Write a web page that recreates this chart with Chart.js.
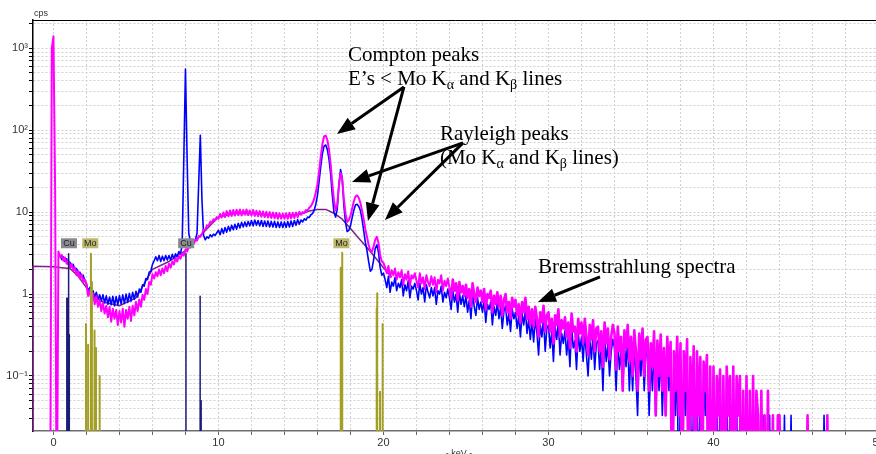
<!DOCTYPE html>
<html>
<head>
<meta charset="utf-8">
<script src="https://cdn.jsdelivr.net/npm/chart.js@4.4.1/dist/chart.umd.min.js"></script>
<style>
  html, body { margin: 0; padding: 0; background: #fff; overflow: hidden; }
</style>
</head>
<body>
<canvas id="spectrum_chart" width="900" height="454"></canvas>
<script>
// channel energies in keV, 0.1 keV apart from -0.2 to 48.0
const energies = [];
for (let i = -2; i <= 480; i++) energies.push(i / 10);

// counts per second, magenta spectrum (one row = 1 keV)
const magenta_cps = [
  0, 1000,                                                        // -0.2
  1400, 20, 0, 3.3, 2.85, 3.0, 2.55, 2.8, 2.35, 2.6,              // 0
  2.1, 2.35, 1.95, 2.1, 1.7, 1.9, 1.55, 1.75, 1.4, 1.5,           // 1
  1.3, 0.95, 1.12, 0.85, 1.02, 0.75, 0.94, 0.7, 0.85, 0.62,       // 2
  0.78, 0.58, 0.72, 0.52, 0.7, 0.46, 0.66, 0.5, 0.64, 0.42,       // 3
  0.62, 0.45, 0.66, 0.4, 0.64, 0.5, 0.7, 0.47, 0.72, 0.55,        // 4
  0.8, 0.62, 0.86, 0.7, 0.98, 0.85, 1.15, 1.0, 1.4, 1.3,          // 5
  1.75, 1.55, 1.85, 1.65, 2.0, 1.7, 2.05, 1.8, 2.2, 1.9,          // 6
  2.35, 2.1, 2.5, 2.3, 2.75, 2.5, 2.9, 2.7, 3.15, 2.95,           // 7
  3.5, 3.3, 3.8, 3.7, 4.2, 4.1, 4.6, 4.5, 5.1, 5.0,               // 8
  5.4, 6.1, 6.1, 6.9, 6.8, 7.6, 7.4, 8.2, 8.0, 8.7,               // 9
  8.3, 9.5, 8.6, 9.9, 8.7, 10.3, 8.9, 10.5, 9.0, 10.6,            // 10
  9.1, 10.7, 9.2, 10.8, 9.1, 10.6, 9.3, 10.8, 9.2, 10.5,          // 11
  9.1, 10.6, 9.0, 10.4, 8.9, 10.3, 8.8, 10.2, 8.7, 10.1,          // 12
  8.6, 10.0, 8.5, 9.9, 8.4, 9.8, 8.3, 9.7, 8.3, 9.6,              // 13
  8.3, 9.7, 8.3, 9.8, 8.4, 9.8, 8.5, 9.9, 8.7, 10.1,              // 14
  9.3, 10.0, 9.8, 10.6, 10.5, 11.3, 11.8, 12.8, 14.5, 17.5,       // 15
  22, 32, 48, 68, 84, 86, 76, 58, 38, 22,                         // 16
  14, 10.5, 12.5, 21, 30, 25, 14.5, 9.5, 7.6, 8.0,                // 17
  9.0, 11, 13.5, 15.5, 16, 15, 13, 10.5, 8.2, 6.2,                // 18
  5.0, 4.0, 3.4, 3.3, 3.8, 4.6, 5.0, 4.2, 3.0, 2.5,               // 19
  2.4, 2.1, 1.8, 2.2, 1.6, 1.95, 1.7, 2.05, 1.5, 1.85,            // 20
  1.6, 1.95, 1.3, 1.75, 1.5, 1.9, 1.25, 1.7, 1.55, 1.8,           // 21
  1.45, 1.2, 1.8, 1.35, 1.6, 1.15, 1.7, 1.4, 1.25, 1.65,          // 22
  1.3, 1.6, 1.05, 1.5, 1.35, 1.7, 1.1, 1.45, 1.25, 1.55,          // 23
  1.2, 0.9, 1.5, 1.1, 1.35, 0.85, 1.4, 1.05, 1.25, 0.95,          // 24
  1.3, 0.9, 1.15, 0.7, 1.35, 1.0, 0.8, 1.2, 0.95, 1.1,            // 25
  0.8, 1.15, 0.65, 1.0, 0.9, 1.1, 0.6, 0.95, 0.75, 1.05,          // 26
  0.7, 0.95, 0.55, 0.85, 1.0, 0.6, 0.8, 0.5, 0.9, 0.7,            // 27
  0.85, 0.55, 0.75, 0.45, 0.8, 0.6, 0.9, 0.5, 0.7, 0.42,          // 28
  0.65, 0.4, 0.7, 0.5, 0.3, 0.6, 0.45, 0.72, 0.35, 0.55,          // 29
  0.6, 0.35, 0.5, 0.25, 0.55, 0.42, 0.65, 0.3, 0.48, 0.38,        // 30
  0.52, 0.3, 0.45, 0.22, 0.58, 0.35, 0.4, 0.2, 0.5, 0.33,         // 31
  0.45, 0.25, 0.5, 0.3, 0.18, 0.42, 0.28, 0.48, 0.2, 0.38,        // 32
  0.4, 0.2, 0.35, 0.13, 0.45, 0.25, 0.38, 0.16, 0.3, 0.42,        // 33
  0.33, 0.12, 0.4, 0.2, 0.3, 0.066, 0.36, 0.22, 0.42, 0.15,       // 34
  0.3, 0.1, 0.36, 0.2, 0.066, 0.33, 0.16, 0.38, 0.1, 0.28,        // 35
  0.3, 0.066, 0.25, 0.13, 0.35, 0.033, 0.27, 0.1, 0.32, 0.066,    // 36
  0.22, 0.033, 0.3, 0.1, 0.26, 0, 0.2, 0.066, 0.3, 0.033,         // 37
  0.25, 0, 0.2, 0.066, 0.28, 0, 0.17, 0.033, 0.23, 0,             // 38
  0.2, 0.033, 0.17, 0, 0.15, 0.066, 0.18, 0, 0.13, 0,             // 39
  0.13, 0, 0.1, 0.033, 0.12, 0, 0.1, 0, 0.13, 0.033,              // 40
  0.1, 0, 0.13, 0, 0.1, 0.033, 0.1, 0, 0.066, 0,                  // 41
  0.1, 0, 0.066, 0, 0.1, 0, 0.066, 0.033, 0, 0.066,               // 42
  0, 0.033, 0, 0.066, 0, 0, 0.033, 0, 0, 0.033,                   // 43
  0.033, 0, 0, 0, 0, 0, 0, 0, 0, 0,                               // 44
  0, 0, 0, 0, 0, 0, 0, 0.033, 0, 0,                               // 45
  0, 0, 0, 0, 0, 0, 0, 0, 0, 0.033,                               // 46
  0, 0, 0, 0, 0, 0, 0, 0, 0, 0,                                   // 47
  0                                                               // 48
];

// counts per second, blue spectrum
const blue_cps = [
  null, null,                                                     // -0.2
  null, null, null, null, 3.0, 2.65, 2.85, 2.5, 2.7, 2.3,         // 0
  2.45, 2.15, 2.3, 1.95, 2.05, 1.75, 1.85, 1.6, 1.7, 1.45,        // 1
  1.35, 1.05, 1.2, 0.98, 1.1, 0.9, 1.05, 0.85, 0.98, 0.82,        // 2
  0.98, 0.78, 0.95, 0.75, 0.92, 0.74, 0.94, 0.72, 0.93, 0.74,     // 3
  0.96, 0.76, 0.98, 0.77, 1.0, 0.79, 1.02, 0.82, 1.05, 0.86,      // 4
  1.08, 0.92, 1.15, 1.05, 1.3, 1.25, 1.55, 1.5, 1.85, 1.9,        // 5
  2.3, 2.55, 2.85, 2.55, 2.95, 2.5, 2.9, 2.55, 2.95, 2.6,         // 6
  2.95, 2.6, 3.05, 2.7, 3.1, 2.85, 3.3, 3.1, 4.0, 45,             // 7
  559, 45, 5.5, 4.4, 4.6, 4.3, 4.6, 5.5, 22, 87,                  // 8
  14, 5.2, 4.6, 5.0, 4.8, 5.3, 5.0, 5.4, 5.2, 5.6,                // 9
  6.0, 5.3, 6.3, 5.5, 6.5, 5.7, 6.7, 5.9, 6.9, 6.1,               // 10
  7.1, 6.2, 7.3, 6.4, 7.5, 6.6, 7.6, 6.7, 7.7, 6.8,               // 11
  7.9, 6.8, 8.0, 6.9, 7.9, 6.8, 7.9, 6.7, 7.8, 6.7,               // 12
  7.8, 6.6, 7.7, 6.6, 7.7, 6.5, 7.6, 6.5, 7.6, 6.5,               // 13
  7.6, 6.5, 7.7, 6.6, 7.8, 6.7, 7.9, 6.9, 8.1, 7.1,               // 14
  8.0, 7.6, 8.3, 8.0, 8.7, 8.6, 9.3, 9.6, 10.5, 12.5,             // 15
  16, 24, 36, 52, 64, 66, 58, 44, 29, 16,                         // 16
  10, 8.7, 11, 22, 33, 26, 12, 7.5, 5.8, 6.0,                     // 17
  6.8, 8.5, 10.5, 12.2, 12.5, 11.8, 10.5, 8.2, 6.0, 4.3,          // 18
  3.4, 2.5, 1.9, 2.0, 2.6, 3.6, 4.0, 3.2, 2.1, 1.7,               // 19
  1.8, 1.5, 1.2, 1.65, 1.05, 1.4, 1.25, 1.6, 1.1, 1.35,           // 20
  1.2, 1.5, 0.95, 1.3, 1.1, 1.45, 0.9, 1.25, 1.15, 1.35,          // 21
  1.1, 0.85, 1.35, 1.0, 1.2, 0.8, 1.3, 1.05, 0.9, 1.2,            // 22
  0.95, 1.2, 0.75, 1.1, 1.0, 1.25, 0.8, 1.05, 0.9, 1.15,          // 23
  0.9, 0.65, 1.1, 0.8, 1.0, 0.6, 1.05, 0.75, 0.95, 0.7,           // 24
  0.95, 0.6, 0.85, 0.5, 1.0, 0.7, 0.55, 0.9, 0.65, 0.8,           // 25
  0.6, 0.85, 0.45, 0.75, 0.65, 0.8, 0.42, 0.7, 0.55, 0.78,        // 26
  0.5, 0.7, 0.38, 0.62, 0.72, 0.42, 0.58, 0.35, 0.66, 0.5,        // 27
  0.6, 0.38, 0.55, 0.3, 0.58, 0.42, 0.64, 0.33, 0.5, 0.28,        // 28
  0.46, 0.26, 0.5, 0.34, 0.18, 0.42, 0.3, 0.52, 0.2, 0.38,        // 29
  0.42, 0.22, 0.35, 0.15, 0.4, 0.28, 0.45, 0.18, 0.33, 0.25,      // 30
  0.36, 0.18, 0.3, 0.13, 0.4, 0.22, 0.27, 0.12, 0.35, 0.2,        // 31
  0.3, 0.15, 0.34, 0.18, 0.1, 0.28, 0.16, 0.33, 0.12, 0.25,       // 32
  0.27, 0.12, 0.24, 0.066, 0.3, 0.15, 0.25, 0.1, 0.2, 0.28,       // 33
  0.22, 0.066, 0.27, 0.12, 0.2, 0.066, 0.24, 0.13, 0.28, 0.066,   // 34
  0.2, 0.066, 0.24, 0.1, 0.033, 0.22, 0.1, 0.25, 0.066, 0.18,     // 35
  0.2, 0.033, 0.16, 0.066, 0.22, 0.033, 0.18, 0.066, 0.2, 0.033,  // 36
  0.15, 0.033, 0.2, 0.066, 0.17, 0, 0.13, 0.033, 0.2, 0,          // 37
  0.16, 0, 0.13, 0.033, 0.18, 0, 0.1, 0, 0.15, 0,                 // 38
  0.13, 0, 0.16, 0, 0.1, 0.033, 0.13, 0, 0.1, 0,                  // 39
  0.1, 0, 0.066, 0, 0.1, 0, 0.066, 0, 0.1, 0,                     // 40
  0.066, 0, 0.1, 0, 0.066, 0, 0.033, 0, 0.066, 0,                 // 41
  0.066, 0, 0.033, 0, 0.066, 0, 0, 0.033, 0, 0,                   // 42
  0.033, 0, 0, 0, 0.033, 0, 0, 0, 0, 0,                           // 43
  0, 0, 0, 0.033, 0, 0, 0, 0.033, 0, 0,                           // 44
  0, 0, 0, 0, 0, 0, 0, 0, 0, 0,                                   // 45
  0, 0, 0, 0, 0, 0, 0, 0.033, 0, 0,                               // 46
  0, 0, 0, 0, 0, 0, 0, 0, 0, 0,                                   // 47
  0                                                               // 48
];

// fitted background curve
const background_kev = [-1.24, -1.24, 0, 0.5, 1, 1.5, 2, 3, 4, 5, 6, 7, 8, 9, 10, 11, 12, 13, 14, 15,
                        15.5, 16, 16.5, 17, 17.5, 18, 18.5, 19, 19.5, 20, 20.5];
const background_cps = [0, 2.19, 2.15, 2.1, 2.05, 1.65, 1.2, 0.8, 0.72, 0.9, 2.0, 2.5, 3.4, 5.4, 8.7, 9.6, 9.7, 9.2, 9.0, 9.5,
                        10.3, 10.8, 10.8, 9.7, 8.2, 6.3, 4.8, 3.7, 2.8, 2.1, 1.6];

// element line markers
const cu_line_kev = [0.81, 0.84, 0.90, 0.93, 0.96, 8.03, 8.89, 8.95];
const cu_line_cps = [0.89, 0.89, 3.1, 0.32, 0.32, 3.1, 0.94, 0.05];
const mo_line_kev = [1.97, 2.10, 2.27, 2.33, 2.49, 2.58, 2.80, 17.41, 17.50, 19.59, 19.62, 19.79, 19.95];
const mo_line_cps = [0.43, 0.24, 3.1, 1.4, 0.36, 0.22, 0.1, 2.1, 3.2, 0.67, 1.02, 0.064, 0.43];

const tag_names = ["Cu", "Mo", "Cu", "Mo"];
const tag_kev = [0.94, 2.23, 8.04, 17.45];
const tag_level = 4.17;

const kev_ticks = [0, 2, 4, 6, 8, 10, 12, 14, 16, 18, 20, 22, 24, 26, 28, 30, 32, 34, 36, 38, 40, 42, 44, 46, 48, 50];
const cps_labels = {"1000": "10\u00b3", "100": "10\u00b2", "10": "10", "1": "1", "0.1": "10\u207b\u00b9"};

// callouts: text anchored at [keV, cps], arrows from [keV, cps] to [keV, cps]
const note_text = [
  [["Compton peaks", 0]],
  [["E\u2019s < Mo K", 0], ["\u03b1", 1], [" and K", 0], ["\u03b2", 1], [" lines", 0]],
  [["Rayleigh peaks", 0]],
  [["(Mo K", 0], ["\u03b1", 1], [" and K", 0], ["\u03b2", 1], [" lines)", 0]],
  [["Bremsstrahlung spectra", 0]]
];
const note_kev = [17.85, 17.85, 23.42, 23.42, 29.36];
const note_cps = [702, 357, 76.1, 38.8, 1.81];
const arrow_from = [[21.24, 338], [21.24, 338], [24.82, 70.0], [24.82, 70.0], [33.12, 1.62]];
const arrow_to = [[17.18, 90.2], [19.06, 7.81], [18.09, 23.4], [20.09, 8.03], [29.36, 0.80]];

// zero counts can't sit on a log axis, so they go to a level under the axis floor
const floor_cps = 0.001;

function points(xs, ys) {
  return xs.map((x, i) => ({x: x, y: ys[i] === 0 ? floor_cps : ys[i]}));
}

function sticks(xs, ys) {
  let pts = [];
  xs.forEach((x, i) => {
    pts.push({x: x, y: floor_cps}, {x: x, y: ys[i]}, {x: x, y: floor_cps});
  });
  return pts;
}

function draw_arrow(ctx, x0, y0, x1, y1) {
  const ang = Math.atan2(y1 - y0, x1 - x0);
  const len = 18, half = 7;
  const bx = x1 - len * Math.cos(ang);
  const by = y1 - len * Math.sin(ang);
  ctx.beginPath();
  ctx.moveTo(x0, y0);
  ctx.lineTo(bx, by);
  ctx.stroke();
  ctx.beginPath();
  ctx.moveTo(x1, y1);
  ctx.lineTo(bx + half * Math.sin(ang), by - half * Math.cos(ang));
  ctx.lineTo(bx - half * Math.sin(ang), by + half * Math.cos(ang));
  ctx.closePath();
  ctx.fill();
}

const serif = '"Liberation Serif", "Times New Roman", serif';
const sans = '"Liberation Sans", Arial, "DejaVu Sans", sans-serif';

const notes_plugin = {
  id: "spectrum_notes",
  afterDatasetsDraw(chart) {
    const ctx = chart.ctx;
    const xs = chart.scales.x;
    const ys = chart.scales.y;

    // element tags
    ctx.save();
    ctx.font = "9px " + sans;
    ctx.textAlign = "center";
    ctx.textBaseline = "middle";
    tag_names.forEach((name, i) => {
      const x = xs.getPixelForValue(tag_kev[i]);
      const y = ys.getPixelForValue(tag_level);
      ctx.fillStyle = name == "Cu" ? "#8a8a93" : "#bdb96c";
      ctx.fillRect(x - 8, y - 5, 16, 10);
      ctx.fillStyle = "#222";
      ctx.fillText(name, x, y + 0.5);
    });
    ctx.restore();

    // callout text
    ctx.save();
    ctx.fillStyle = "#000";
    ctx.textBaseline = "alphabetic";
    note_text.forEach((runs, i) => {
      let x = xs.getPixelForValue(note_kev[i]);
      const y = ys.getPixelForValue(note_cps[i]);
      runs.forEach(([txt, sub]) => {
        ctx.font = (sub ? "14px " : "21px ") + serif;
        ctx.fillText(txt, x, sub ? y + 4 : y);
        x += ctx.measureText(txt).width;
      });
    });

    // arrows
    ctx.strokeStyle = "#000";
    ctx.lineWidth = 3;
    arrow_from.forEach((a, i) => {
      const b = arrow_to[i];
      draw_arrow(ctx, xs.getPixelForValue(a[0]), ys.getPixelForValue(a[1]),
                 xs.getPixelForValue(b[0]), ys.getPixelForValue(b[1]));
    });
    ctx.restore();
  },
  afterDraw(chart) {
    const ctx = chart.ctx;
    const area = chart.chartArea;
    ctx.save();
    ctx.strokeStyle = "#000";
    ctx.lineWidth = 1;
    ctx.beginPath();
    ctx.moveTo(area.left, area.top + 0.5);
    ctx.lineTo(area.right, area.top + 0.5);
    ctx.stroke();
    ctx.fillStyle = "#333";
    ctx.font = "9px " + sans;
    ctx.textAlign = "left";
    ctx.fillText("cps", 34, 16);
    ctx.textAlign = "center";
    ctx.fillText("- keV -", 459, 456);
    ctx.restore();
  }
};

new Chart(document.getElementById("spectrum_chart"), {
  type: "line",
  data: {
    datasets: [
      {
        data: sticks(mo_line_kev, mo_line_cps),
        borderColor: "#a39e24",
        borderWidth: 2
      },
      {
        data: sticks(cu_line_kev, cu_line_cps),
        borderColor: "#1b1b78",
        borderWidth: 1.5
      },
      {
        data: points(energies, magenta_cps),
        borderColor: "#ff00ff",
        borderWidth: 2,
        // the sparse high-energy channels get a heavier stroke
        segment: {borderWidth: (c) => c.p0.parsed.x >= 24 ? 2.6 : 2}
      },
      {
        data: points(energies, blue_cps),
        borderColor: "#0000ff",
        borderWidth: 1.6
      },
      {
        data: points(background_kev, background_cps),
        borderColor: "#7d1f8c",
        borderWidth: 1.5,
        clip: {left: 2, top: 0, right: 0, bottom: 0}
      }
    ]
  },
  options: {
    responsive: false,
    animation: false,
    events: [],
    layout: {padding: {top: 20, right: 21.5, left: 0, bottom: 0}},
    elements: {
      point: {radius: 0},
      line: {tension: 0, borderJoinStyle: "round", fill: false}
    },
    plugins: {
      legend: {display: false},
      tooltip: {enabled: false}
    },
    scales: {
      x: {
        type: "linear",
        min: -1.24,
        max: 50,
        bounds: "data",
        afterBuildTicks: (scale) => { scale.ticks = kev_ticks.map(v => ({value: v})); },
        afterFit: (scale) => { scale.height = 23; },
        ticks: {
          autoSkip: false,
          maxRotation: 0,
          padding: 1,
          color: "#333",
          font: {family: sans, size: 11},
          callback: (v) => v % 10 === 0 ? String(v) : ""
        },
        grid: {color: "#d0d0d0", lineWidth: 1, tickLength: 4, tickColor: "#666"},
        border: {color: "#6e6e6e", width: 1.5, dash: [2, 2]}
      },
      y: {
        type: "logarithmic",
        min: 0.0213,
        max: 2216,
        bounds: "data",
        afterBuildTicks: (scale) => {
          let t = [];
          for (let k = -2; k <= 3; k++) {
            for (let n = 1; n <= 9; n++) {
              const v = Number((n * Math.pow(10, k)).toPrecision(3));
              if (v >= scale.min && v <= scale.max) t.push({value: v});
            }
          }
          scale.ticks = t;
        },
        afterFit: (scale) => { scale.width = 33; },
        ticks: {
          autoSkip: false,
          padding: 1,
          color: "#333",
          font: {family: sans, size: 11},
          callback: (v) => cps_labels[String(v)] || ""
        },
        grid: {color: "#d0d0d0", lineWidth: 1, tickLength: 4, tickColor: "#000"},
        border: {color: "#000", width: 1.5, dash: [2, 2]}
      }
    }
  },
  plugins: [notes_plugin]
});
</script>
</body>
</html>
